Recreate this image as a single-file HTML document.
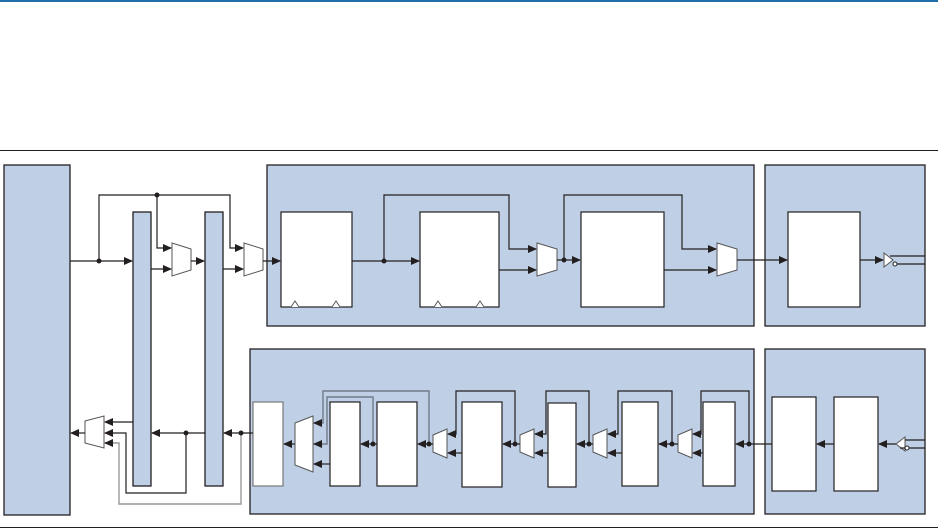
<!DOCTYPE html>
<html><head><style>body{margin:0;background:#fff}svg{display:block}</style></head><body>
<svg width="938" height="529" viewBox="0 0 938 529" xmlns="http://www.w3.org/2000/svg">
<defs>
<marker id="a" markerWidth="9" markerHeight="8" refX="8" refY="4" orient="auto" markerUnits="userSpaceOnUse"><path d="M0,0L9,4L0,8z" fill="#231f20"/></marker>
</defs>
<rect x="0" y="0" width="938" height="2" fill="#1f6ea8"/>
<line x1="0" y1="150.5" x2="938" y2="150.5" stroke="#231f20"/>
<line x1="0" y1="527.5" x2="938" y2="527.5" stroke="#231f20"/>
<g fill="#bfd0e6" stroke="#231f20" stroke-width="1.3">
<rect x="4" y="165" width="66" height="350"/>
<rect x="133" y="212" width="18" height="274"/>
<rect x="205" y="212" width="18" height="274"/>
<rect x="267" y="165" width="487" height="161"/>
<rect x="765" y="165" width="160" height="161"/>
<rect x="250" y="349" width="504" height="165"/>
<rect x="765" y="349" width="160" height="165"/>
</g>
<g fill="#fff" stroke="#231f20" stroke-width="1.2">
<rect x="281" y="212" width="71" height="95"/>
<rect x="420" y="212" width="79" height="95"/>
<rect x="581" y="212" width="83" height="95"/>
<rect x="788" y="212" width="72" height="95"/>
<rect x="772" y="397" width="44" height="94"/>
<rect x="834" y="397" width="44" height="94"/>
<rect x="253" y="402" width="30" height="84" stroke="#777"/>
<rect x="330" y="402" width="30" height="84"/>
<rect x="377" y="402" width="40" height="84"/>
<rect x="462" y="402" width="40" height="85"/>
<rect x="548" y="403" width="28" height="84"/>
<rect x="622" y="402" width="36" height="84"/>
<rect x="703" y="402" width="32" height="84"/>
</g>
<g fill="#fff" stroke="#555" stroke-width="1">
<path d="M172,243L191,249L191,270L172,276z"/>
<path d="M244,243L263,249L263,270L244,276z"/>
<path d="M537,243L557,249L557,270L537,276z"/>
<path d="M717,243L737,249L737,270L717,276z"/>
<path d="M295,423L313,416L313,472L295,465z"/>
<path d="M433,435L447,429L447,458L433,452z"/>
<path d="M520,435L534,429L534,458L520,452z"/>
<path d="M593,435L607,429L607,458L593,452z"/>
<path d="M678,435L692,429L692,458L678,452z"/>
<path d="M85,421L104,416L104,448L85,443z"/>
<path d="M884,253L893,260L884,267z"/>
<path d="M905,437L896,444L905,451z"/>
<path d="M291,307L295,301L299,307M332,307L336,301L340,307M434,307L438,301L442,307M476,307L480,301L484,307"/>
</g>
<g fill="none" stroke="#231f20" stroke-width="1.2">
<path d="M70,261H132" marker-end="url(#a)"/>
<path d="M99,261V195H230V248H243" marker-end="url(#a)"/>
<path d="M157,195V248H171" marker-end="url(#a)"/>
<path d="M151,269H171" marker-end="url(#a)"/>
<path d="M191,261H204" marker-end="url(#a)"/>
<path d="M223,269H243" marker-end="url(#a)"/>
<path d="M263,261H280" marker-end="url(#a)"/>
<path d="M352,261H419" marker-end="url(#a)"/>
<path d="M384,261V195H509V249H536" marker-end="url(#a)"/>
<path d="M499,270H536" marker-end="url(#a)"/>
<path d="M557,260H580" marker-end="url(#a)"/>
<path d="M564,260V195H682V249H716" marker-end="url(#a)"/>
<path d="M664,270H716" marker-end="url(#a)"/>
<path d="M737,260H787" marker-end="url(#a)"/>
<path d="M860,260H883" marker-end="url(#a)"/>
<path d="M890,256H925M893,264H925"/>
<path d="M925,440H905M900,448H925"/>
<path d="M896,444H879" marker-end="url(#a)"/>
<path d="M834,444H817" marker-end="url(#a)"/>
<path d="M772,444H736" marker-end="url(#a)"/>
<path d="M749,444V391H701V434H693" marker-end="url(#a)"/>
<path d="M703,453H693" marker-end="url(#a)"/>
<path d="M678,444H659" marker-end="url(#a)"/>
<path d="M672,444V391H618V434H608" marker-end="url(#a)"/>
<path d="M622,453H608" marker-end="url(#a)"/>
<path d="M593,444H577" marker-end="url(#a)"/>
<path d="M589,444V391H546V434H535" marker-end="url(#a)"/>
<path d="M548,453H535" marker-end="url(#a)"/>
<path d="M520,444H503" marker-end="url(#a)"/>
<path d="M515,444V391H456V434H448" marker-end="url(#a)"/>
<path d="M462,453H448" marker-end="url(#a)"/>
<path d="M433,444H418" marker-end="url(#a)"/>
<path d="M377,444H361" marker-end="url(#a)"/>
<path d="M330,464H314" marker-end="url(#a)"/>
<path d="M295,444H284" marker-end="url(#a)"/>
<path d="M253,433H224" marker-end="url(#a)"/>
<path d="M205,433H152" marker-end="url(#a)"/>
<path d="M133,422H105" marker-end="url(#a)"/>
<path d="M85,433H71" marker-end="url(#a)"/>
<path d="M186,433V493H126V433H105" marker-end="url(#a)"/>
</g>
<g fill="none" stroke="#707a88" stroke-width="1.4">
<path d="M429,444V391H323V423H314" marker-end="url(#a)"/>
<path d="M373,444V397H327V444H314" marker-end="url(#a)"/>
</g>
<path d="M241,433V504H119V443H105" fill="none" stroke="#999" stroke-width="1.4" marker-end="url(#a)"/>
<g fill="#231f20">
<circle cx="99" cy="261" r="2.5"/><circle cx="157" cy="195" r="2.5"/>
<circle cx="384" cy="261" r="2.5"/><circle cx="564" cy="260" r="2.5"/>
<circle cx="749" cy="444" r="2.5"/><circle cx="672" cy="444" r="2.5"/>
<circle cx="589" cy="444" r="2.5"/><circle cx="515" cy="444" r="2.5"/>
<circle cx="429" cy="444" r="2.5"/><circle cx="373" cy="444" r="2.5"/>
<circle cx="241" cy="433" r="2.5"/><circle cx="186" cy="433" r="2.5"/>
</g>
<g fill="#fff" stroke="#231f20"><circle cx="895" cy="264" r="2"/><circle cx="907" cy="448" r="2"/></g>
</svg>
</body></html>
